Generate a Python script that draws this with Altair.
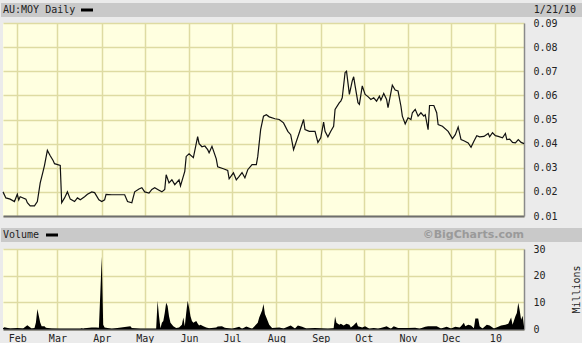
import altair as alt
import pandas as pd

# ---------------- data ----------------
price_dates = [
    "2009-01-22", "2009-01-24", "2009-01-27", "2009-01-30", "2009-02-01", "2009-02-02", "2009-02-03",
    "2009-02-07", "2009-02-08", "2009-02-10", "2009-02-13", "2009-02-15", "2009-02-17", "2009-02-19",
    "2009-02-20", "2009-02-22", "2009-02-24", "2009-02-26", "2009-02-27", "2009-03-03", "2009-03-04",
    "2009-03-06", "2009-03-08", "2009-03-10", "2009-03-13", "2009-03-15", "2009-03-17", "2009-03-20",
    "2009-03-22", "2009-03-25", "2009-03-27", "2009-03-30", "2009-04-01", "2009-04-03", "2009-04-04",
    "2009-04-08", "2009-04-17", "2009-04-19", "2009-04-22", "2009-04-24", "2009-04-27", "2009-04-29",
    "2009-05-01", "2009-05-04", "2009-05-06", "2009-05-08", "2009-05-11", "2009-05-13", "2009-05-15",
    "2009-05-16", "2009-05-18", "2009-05-20", "2009-05-22", "2009-05-25", "2009-05-26", "2009-05-29",
    "2009-05-30", "2009-06-01", "2009-06-04", "2009-06-07", "2009-06-08", "2009-06-10", "2009-06-12",
    "2009-06-14", "2009-06-15", "2009-06-17", "2009-06-20", "2009-06-21", "2009-06-25", "2009-06-28",
    "2009-06-29", "2009-07-02", "2009-07-04", "2009-07-06", "2009-07-08", "2009-07-10", "2009-07-12",
    "2009-07-15", "2009-07-18", "2009-07-19", "2009-07-21", "2009-07-23", "2009-07-25", "2009-07-27",
    "2009-07-31", "2009-08-03", "2009-08-06", "2009-08-09", "2009-08-11", "2009-08-13", "2009-08-15",
    "2009-08-17", "2009-08-20", "2009-08-21", "2009-08-24", "2009-08-28", "2009-08-30", "2009-09-01",
    "2009-09-03", "2009-09-04", "2009-09-06", "2009-09-08", "2009-09-10", "2009-09-11", "2009-09-14",
    "2009-09-15", "2009-09-16", "2009-09-18", "2009-09-19", "2009-09-21", "2009-09-23", "2009-09-24",
    "2009-09-25", "2009-09-27", "2009-09-28", "2009-09-30", "2009-10-02", "2009-10-04", "2009-10-06",
    "2009-10-08", "2009-10-10", "2009-10-12", "2009-10-13", "2009-10-15", "2009-10-17", "2009-10-18",
    "2009-10-21", "2009-10-23", "2009-10-25", "2009-10-27", "2009-10-28", "2009-10-30", "2009-11-01",
    "2009-11-03", "2009-11-04", "2009-11-06", "2009-11-08", "2009-11-10", "2009-11-12", "2009-11-13",
    "2009-11-15", "2009-11-16", "2009-11-19", "2009-11-21", "2009-11-22", "2009-11-25", "2009-11-29",
    "2009-12-02", "2009-12-04", "2009-12-06", "2009-12-08", "2009-12-10", "2009-12-13", "2009-12-15",
    "2009-12-17", "2009-12-19", "2009-12-21", "2009-12-24", "2009-12-27", "2009-12-28", "2009-12-30",
    "2010-01-01", "2010-01-03", "2010-01-06", "2010-01-08", "2010-01-09", "2010-01-11", "2010-01-13",
    "2010-01-15", "2010-01-17", "2010-01-19", "2010-01-21",
]
price_values = [
    0.020, 0.0175, 0.017, 0.016, 0.019, 0.0167, 0.018,
    0.017, 0.0155, 0.0142, 0.0142, 0.016, 0.0237, 0.0285,
    0.031, 0.0372, 0.035, 0.033, 0.0317, 0.031, 0.0155,
    0.0175, 0.020, 0.017, 0.016, 0.0175, 0.0167, 0.018,
    0.019, 0.020, 0.0197, 0.0167, 0.016, 0.0167, 0.019,
    0.0188, 0.0188, 0.016, 0.0155, 0.020, 0.0212, 0.0217,
    0.020, 0.0195, 0.021, 0.0217, 0.0207, 0.020, 0.021,
    0.0271, 0.0237, 0.025, 0.023, 0.025, 0.0225, 0.0285,
    0.0347, 0.0358, 0.0342, 0.0429, 0.040, 0.0387, 0.039,
    0.0375, 0.0362, 0.0389, 0.0337, 0.0304, 0.0296, 0.0289,
    0.0254, 0.0279, 0.025, 0.0264, 0.028, 0.0258, 0.0292,
    0.0313, 0.0313, 0.0347, 0.0458, 0.0514, 0.052, 0.0511,
    0.0503, 0.050, 0.0486, 0.0451, 0.0437, 0.0375, 0.041,
    0.0445, 0.050, 0.0458, 0.0451, 0.0451, 0.0405, 0.0424,
    0.0489, 0.0451, 0.0428, 0.0451, 0.0472, 0.0542, 0.057,
    0.0576, 0.059, 0.0695, 0.070, 0.0604, 0.066, 0.0677,
    0.0639, 0.057, 0.0563, 0.0639, 0.0604, 0.0595, 0.0583,
    0.059, 0.0576, 0.0597, 0.058, 0.0608, 0.0583, 0.0549,
    0.0642, 0.0622, 0.0618, 0.0556, 0.0514, 0.0482, 0.0507,
    0.050, 0.0528, 0.0542, 0.0514, 0.0528, 0.0514, 0.052,
    0.0458, 0.0558, 0.0558, 0.0528, 0.0479, 0.0472, 0.0451,
    0.0421, 0.0437, 0.0469, 0.0417, 0.0412, 0.0403, 0.0385,
    0.041, 0.0433, 0.0428, 0.043, 0.0442, 0.0428, 0.0445,
    0.0433, 0.043, 0.0424, 0.0442, 0.0417, 0.0419, 0.0405,
    0.0403, 0.0417, 0.0405, 0.040,
]

volume_dates = [
    "2009-01-22", "2009-01-23", "2009-01-27", "2009-02-01", "2009-02-05", "2009-02-08", "2009-02-11",
    "2009-02-13", "2009-02-14", "2009-02-15", "2009-02-16", "2009-02-17", "2009-02-18", "2009-02-20",
    "2009-02-21", "2009-02-25", "2009-03-03", "2009-03-17", "2009-03-18", "2009-03-19", "2009-03-20",
    "2009-03-25", "2009-03-28", "2009-03-30", "2009-03-31", "2009-04-01", "2009-04-02", "2009-04-03",
    "2009-04-08", "2009-04-21", "2009-04-22", "2009-04-28", "2009-05-09", "2009-05-10", "2009-05-11",
    "2009-05-12", "2009-05-13", "2009-05-14", "2009-05-15", "2009-05-16", "2009-05-17", "2009-05-18",
    "2009-05-19", "2009-05-21", "2009-05-23", "2009-05-25", "2009-05-27", "2009-05-28", "2009-05-29",
    "2009-05-30", "2009-05-31", "2009-06-01", "2009-06-02", "2009-06-03", "2009-06-04", "2009-06-06",
    "2009-06-07", "2009-06-08", "2009-06-09", "2009-06-11", "2009-06-13", "2009-06-15", "2009-06-20",
    "2009-06-21", "2009-06-24", "2009-06-26", "2009-07-01", "2009-07-06", "2009-07-08", "2009-07-11",
    "2009-07-15", "2009-07-19", "2009-07-20", "2009-07-21", "2009-07-22", "2009-07-23", "2009-07-24",
    "2009-07-25", "2009-07-27", "2009-07-29", "2009-08-03", "2009-08-06", "2009-08-11", "2009-08-14",
    "2009-08-16", "2009-08-19", "2009-08-22", "2009-08-28", "2009-09-06", "2009-09-10", "2009-09-11",
    "2009-09-12", "2009-09-14", "2009-09-15", "2009-09-17", "2009-09-19", "2009-09-21", "2009-09-22",
    "2009-09-24", "2009-09-26", "2009-09-27", "2009-09-30", "2009-10-02", "2009-10-05", "2009-10-08",
    "2009-10-11", "2009-10-16", "2009-10-17", "2009-10-20", "2009-10-22", "2009-10-25", "2009-11-01",
    "2009-11-06", "2009-11-09", "2009-11-13", "2009-11-15", "2009-11-21", "2009-11-24", "2009-11-28",
    "2009-12-01", "2009-12-04", "2009-12-07", "2009-12-08", "2009-12-10", "2009-12-11", "2009-12-13",
    "2009-12-15", "2009-12-17", "2009-12-18", "2009-12-20", "2009-12-21", "2009-12-23", "2009-12-26",
    "2009-12-28", "2009-12-31", "2010-01-03", "2010-01-05", "2010-01-08", "2010-01-10", "2010-01-12",
    "2010-01-13", "2010-01-15", "2010-01-16", "2010-01-17", "2010-01-18", "2010-01-19", "2010-01-20",
    "2010-01-21",
]
volume_millions = [
    0.3, 0.7, 0.2, 0.4, 0.2, 1.4, 0.2,
    0.4, 2.4, 7.5, 5.0, 2.4, 1.0, 1.0,
    0.5, 0.2, 0.1, 0.1, 0.3, 0.1, 0.3,
    0.6, 0.6, 0.5, 13.6, 27.1, 1.6, 0.6,
    0.1, 1.0, 0.4, 0.1, 0.1, 10.6, 4.8,
    0.3, 2.3, 3.0, 6.0, 9.8, 8.6, 4.8,
    2.3, 1.0, 0.4, 0.6, 1.6, 4.3, 1.0,
    6.0, 10.6, 8.1, 4.8, 3.0, 2.3, 3.0,
    2.1, 1.3, 1.6, 1.0, 0.6, 0.3, 0.6,
    0.9, 1.0, 0.5, 0.1, 0.8, 0.1, 0.9,
    0.1, 2.3, 4.3, 5.6, 6.9, 9.4, 5.6,
    4.3, 1.6, 0.4, 0.6, 0.2, 1.3, 0.2,
    1.3, 0.8, 0.2, 0.4, 0.1, 0.3, 4.7,
    2.3, 1.6, 2.0, 1.3, 2.0, 1.6, 0.6,
    1.4, 2.5, 1.0, 0.6, 1.0, 0.1, 0.4,
    0.1, 0.8, 1.0, 0.1, 1.0, 0.4, 0.4,
    0.5, 0.1, 0.8, 1.0, 1.0, 0.2, 0.8,
    0.2, 0.8, 0.6, 1.0, 2.3, 1.0, 1.6,
    1.3, 0.3, 3.9, 3.9, 1.0, 0.2, 1.6,
    1.3, 0.2, 0.8, 1.3, 1.6, 2.0, 4.3,
    1.6, 4.8, 6.0, 9.8, 6.9, 3.5, 5.0,
    1.0,
]

month_starts = [
    "2009-02-01", "2009-03-01", "2009-04-01", "2009-05-01", "2009-06-01", "2009-07-01",
    "2009-08-01", "2009-09-01", "2009-10-01", "2009-11-01", "2009-12-01", "2010-01-01",
]
price_ticks = [0.01, 0.02, 0.03, 0.04, 0.05, 0.06, 0.07, 0.08, 0.09]
volume_ticks = [0, 10, 20, 30]
x_domain = ["2009-01-22", "2010-01-21"]

price_title = "AU:MOY Daily"
date_text = "1/21/10"
volume_title = "Volume"
credit_text = "\u00a9BigCharts.com"
volume_unit = "Millions"

# ---------------- style ----------------
FONT = "DejaVu Sans Mono"
BG = "#ebebeb"
BAR = "#c9c9c9"
PLOT_BG = "#ffffe0"
GRID = "#dedba2"
TXT = "#222222"

month_vals = [alt.DateTime(year=int(s[:4]), month=int(s[5:7]), date=1) for s in month_starts]

price_df = pd.DataFrame({"date": price_dates, "price": price_values})
vol_df = pd.DataFrame({"date": volume_dates, "vol": volume_millions})
one = pd.DataFrame({"k": [0]})


def header_layers(left_label, dash_x, right_label, right_x, right_font, right_color, right_weight, top, bottom):
    mid = (top + bottom) / 2
    bar = alt.Chart(one).mark_rect(color=BAR).encode(
        x=alt.value(-2), x2=alt.value(579), y=alt.value(top), y2=alt.value(bottom)
    )
    left = alt.Chart(one).mark_text(
        text=left_label, font=FONT, fontSize=10, color=TXT, align="left", baseline="middle"
    ).encode(x=alt.value(0), y=alt.value(mid))
    dash = alt.Chart(one).mark_rect(color="black").encode(
        x=alt.value(dash_x), x2=alt.value(dash_x + 12), y=alt.value(mid - 1.5), y2=alt.value(mid + 1.5)
    )
    right = alt.Chart(one).mark_text(
        text=right_label, font=right_font, fontSize=10 if right_font == FONT else 11,
        color=right_color, fontWeight=right_weight, align="right", baseline="middle"
    ).encode(x=alt.value(right_x), y=alt.value(mid))
    return [bar, left, dash, right]


price_line = alt.Chart(price_df).mark_line(color="#111111", strokeWidth=1.2).encode(
    x=alt.X(
        "date:T",
        scale=alt.Scale(domain=x_domain),
        axis=alt.Axis(
            title=None, labels=False, ticks=False, values=month_vals, grid=True,
            gridColor=GRID, gridWidth=1.5, domainColor="#6e6e6e", domainWidth=2,
        ),
    ),
    y=alt.Y(
        "price:Q",
        scale=alt.Scale(domain=[0.01, 0.09], nice=False, zero=False),
        axis=alt.Axis(
            title=None, orient="right", values=price_ticks, format=".2f", ticks=False,
            labelPadding=9, labelFont=FONT, labelFontSize=10, labelColor=TXT, labelOverlap=False,
            grid=True, gridColor=GRID, gridWidth=1.5, domainColor="#8a8a8a", domainWidth=1.5,
        ),
    ),
)

price_panel = alt.layer(
    *header_layers(price_title, 78, date_text, 573, FONT, TXT, "normal", -20, -6),
    price_line,
).properties(width=521, height=193)

volume_area = alt.Chart(vol_df).mark_area(color="black", interpolate="linear").encode(
    x=alt.X(
        "date:T",
        scale=alt.Scale(domain=x_domain),
        axis=alt.Axis(
            title=None, values=month_vals, ticks=False, labelPadding=4, labelFlush=False,
            labelOverlap=False, labelFont=FONT, labelFontSize=10, labelColor=TXT,
            labelExpr="month(datum.value) == 0 ? timeFormat(datum.value, '%y') : timeFormat(datum.value, '%b')",
            grid=True, gridColor=GRID, gridWidth=1.5, domainColor="#444444", domainWidth=2,
        ),
    ),
    y=alt.Y(
        "vol:Q",
        scale=alt.Scale(domain=[0, 30], nice=False),
        axis=alt.Axis(
            title=volume_unit, orient="right", values=volume_ticks, ticks=False, labelPadding=9,
            labelFont=FONT, labelFontSize=10, labelColor=TXT, labelOverlap=False,
            titleFont=FONT, titleFontSize=10, titleFontWeight="normal", titleColor=TXT,
            titleAngle=270, titleX=52, titleY=40, titleAlign="center", titleBaseline="middle",
            grid=True, gridColor=GRID, gridWidth=1.5, domainColor="#8a8a8a", domainWidth=1.5,
        ),
    ),
)

volume_panel = alt.layer(
    *header_layers(volume_title, 43, credit_text, 521, "DejaVu Sans", "#9a9a9a", "bold", -21, -7),
    volume_area,
).properties(width=521, height=80)

chart = alt.vconcat(price_panel, volume_panel, spacing=7).properties(
    background=BG, padding={"left": 0, "top": 3, "right": 0, "bottom": 0}
).configure_view(fill=PLOT_BG, strokeWidth=0)

chart.save("out.html", embed_options={"renderer": "svg", "actions": False})
